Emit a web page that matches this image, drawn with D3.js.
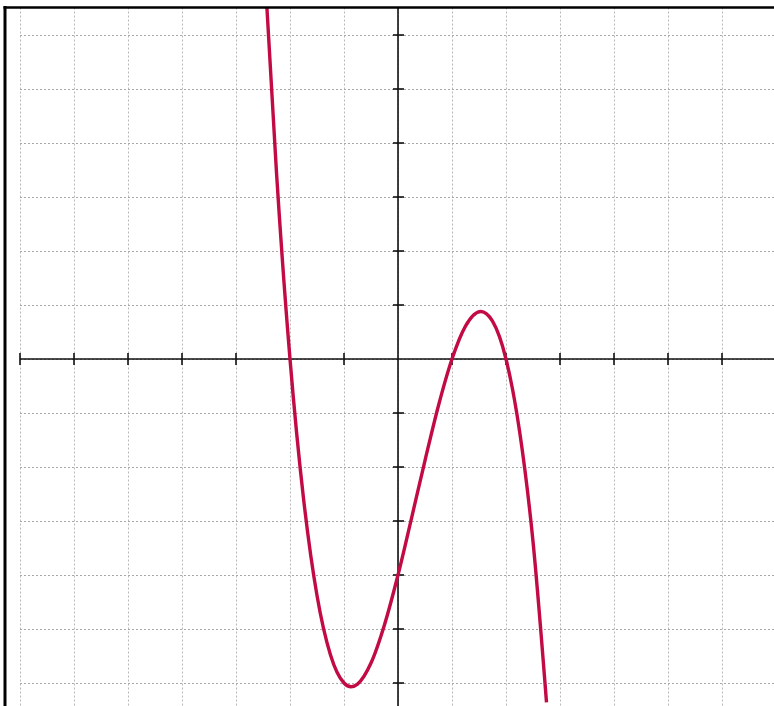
<!DOCTYPE html>
<html>
<head>
<meta charset="utf-8">
<script src="https://cdn.jsdelivr.net/npm/d3@7"></script>
<style>
  html, body { margin: 0; padding: 0; background: #fff; overflow: hidden; }
  svg { display: block; }
  .grid line { stroke: #a8a8a8; stroke-width: 1; stroke-dasharray: 2,2; }
  .grid line.v { stroke: #b8b8b8; }
  .axis line { stroke: #111; stroke-width: 1.6; }
  .curve { fill: none; stroke: #c20a45; stroke-width: 3.4; }
</style>
</head>
<body>
<svg id="chart" width="774" height="706"></svg>
<script>
const W = 774;
const H = 706;

// grid / tick positions in plot units
const xTicks = [-7, -6, -5, -4, -3, -2, -1, 1, 2, 3, 4, 5, 6];
const yTicks = [-6, -5, -4, -3, -2, -1, 1, 2, 3, 4, 5, 6];
const xGrid = [-7, -6, -5, -4, -3, -2, -1, 0, 1, 2, 3, 4, 5, 6];
const yGrid = [-6, -5, -4, -3, -2, -1, 0, 1, 2, 3, 4, 5, 6];

// curve samples
const curveX = [-2.44, -2.25, -2, -1.75, -1.5, -1.25, -1, -0.87, -0.75, -0.5, -0.25, 0,
  0.25, 0.5, 0.75, 1, 1.25, 1.535, 1.75, 2, 2.25, 2.5, 2.75];
const curveY = [6.72, 3.45, 0, -2.58, -4.38, -5.48, -6.0, -6.07, -6.02, -5.63, -4.92, -4.0,
  -2.95, -1.88, -0.86, 0, 0.61, 0.88, 0.70, 0, -1.33, -3.38, -6.36];

const plotLeft = 5;
const plotTop = 7.5;

const x = d3.scaleLinear().domain([-7, 7]).range([20, 776]);
const y = d3.scaleLinear().domain([-6, 6]).range([683, 35]);

const svg = d3.select('#chart');

svg.append('defs').append('clipPath')
  .attr('id', 'plot-clip')
  .append('rect')
  .attr('x', plotLeft)
  .attr('y', plotTop)
  .attr('width', W - plotLeft)
  .attr('height', H - plotTop);

const grid = svg.append('g').attr('class', 'grid');

grid.selectAll('line.v')
  .data(xGrid)
  .enter().append('line')
  .attr('class', 'v')
  .attr('x1', d => Math.round(x(d)) + 0.5)
  .attr('x2', d => Math.round(x(d)) + 0.5)
  .attr('y1', plotTop)
  .attr('y2', H);

grid.selectAll('line.h')
  .data(yGrid)
  .enter().append('line')
  .attr('class', 'h')
  .attr('y1', d => Math.round(y(d)) + 0.5)
  .attr('y2', d => Math.round(y(d)) + 0.5)
  .attr('x1', x(-7))
  .attr('x2', W);

const axes = svg.append('g').attr('class', 'axis');

// x axis line + ticks
axes.append('line')
  .attr('x1', x(-7)).attr('x2', W)
  .attr('y1', y(0)).attr('y2', y(0));

axes.selectAll('line.xt')
  .data(xTicks)
  .enter().append('line')
  .attr('class', 'xt')
  .attr('x1', d => x(d)).attr('x2', d => x(d))
  .attr('y1', y(0) - 6).attr('y2', y(0) + 6);

// y axis line + ticks
axes.append('line')
  .attr('x1', x(0)).attr('x2', x(0))
  .attr('y1', plotTop).attr('y2', H);

axes.selectAll('line.yt')
  .data(yTicks)
  .enter().append('line')
  .attr('class', 'yt')
  .attr('y1', d => y(d)).attr('y2', d => y(d))
  .attr('x1', x(0) - 5).attr('x2', x(0) + 6);

const line = d3.line()
  .x(d => x(d[0]))
  .y(d => y(d[1]))
  .curve(d3.curveMonotoneX);

svg.append('path')
  .datum(curveX.map((v, i) => [v, curveY[i]]))
  .attr('class', 'curve')
  .attr('clip-path', 'url(#plot-clip)')
  .attr('d', line);

// frame: left and top border
svg.append('line')
  .attr('x1', plotLeft).attr('x2', plotLeft)
  .attr('y1', plotTop - 1.5).attr('y2', H)
  .attr('stroke', '#000').attr('stroke-width', 3);

svg.append('line')
  .attr('x1', plotLeft - 1.5).attr('x2', W)
  .attr('y1', plotTop).attr('y2', plotTop)
  .attr('stroke', '#000').attr('stroke-width', 2.5);
</script>
</body>
</html>
